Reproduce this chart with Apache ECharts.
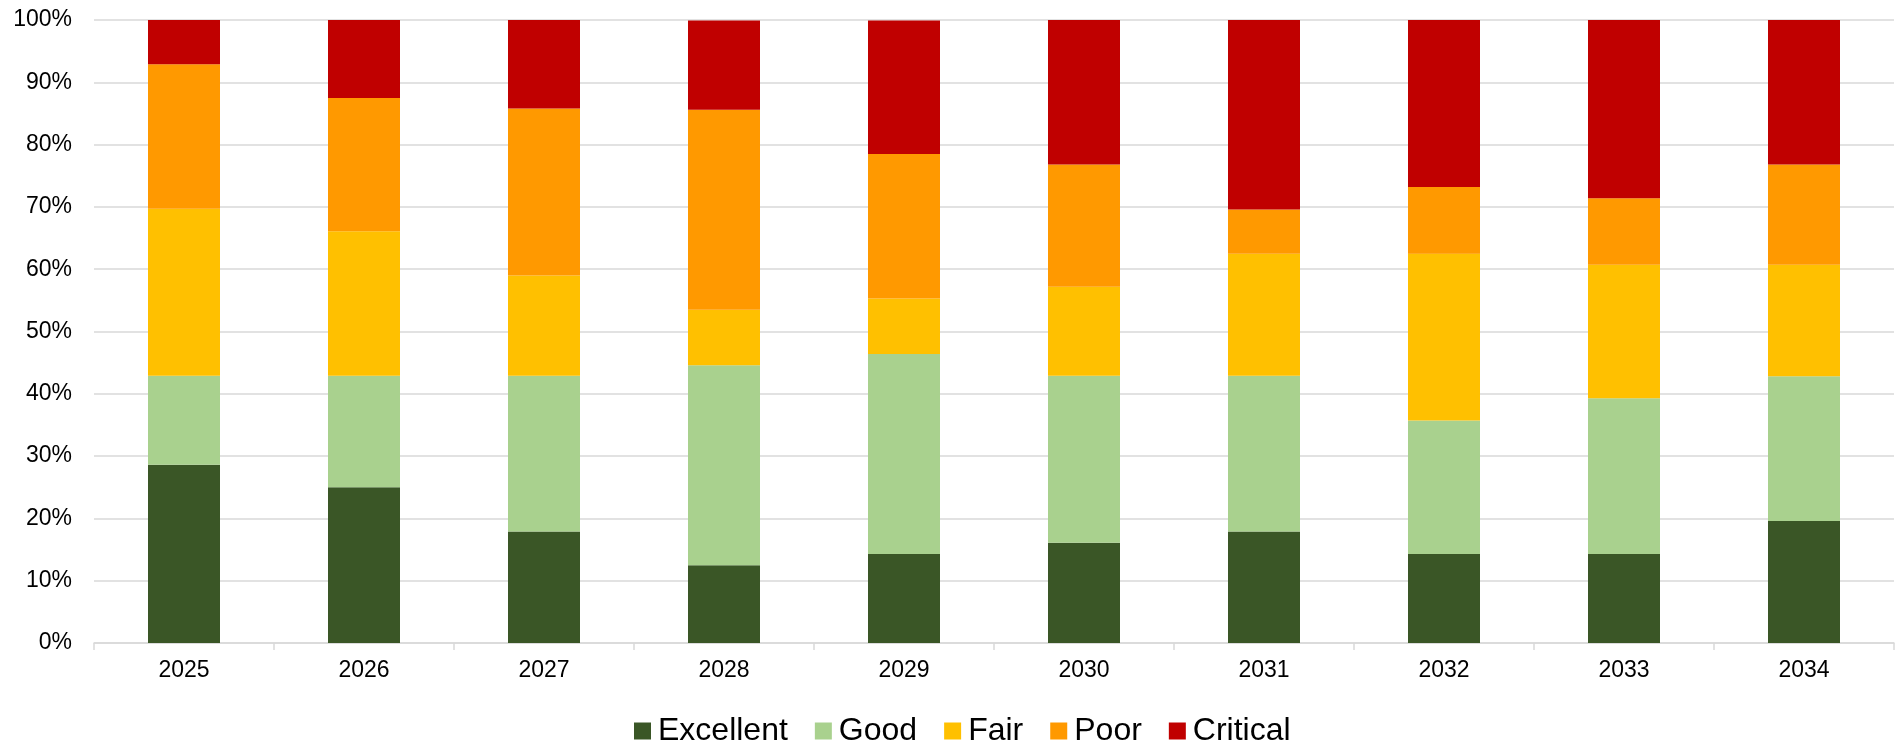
<!DOCTYPE html>
<html>
<head>
<meta charset="utf-8">
<title>Condition Forecast 2025–2034</title>
<script src="https://cdn.jsdelivr.net/npm/echarts@6/dist/echarts.min.js"></script>
<style>
  html, body { margin: 0; padding: 0; background: #ffffff; }
  #chart { width: 1898px; height: 743px; }
</style>
</head>
<body>
<div id="chart"></div>
<script>
// Years on the category axis
const years = ['2025', '2026', '2027', '2028', '2029', '2030', '2031', '2032', '2033', '2034'];

// Share of assets in each condition band (% of total per year)
const excellent = [28.6, 25.0, 17.9, 12.5, 14.3, 16.1, 17.9, 14.3, 14.3, 19.6];
const good      = [14.3, 17.9, 25.0, 32.1, 32.1, 26.8, 25.0, 21.4, 25.0, 23.2];
const fair      = [26.8, 23.2, 16.1,  8.9,  8.9, 14.3, 19.6, 26.8, 21.4, 17.9];
const poor      = [23.2, 21.4, 26.8, 32.1, 23.2, 19.6,  7.1, 10.7, 10.7, 16.1];
const critical  = [ 7.1, 12.5, 14.3, 14.3, 21.4, 23.2, 30.4, 26.8, 28.6, 23.2];

const seriesNames = ['Excellent', 'Good', 'Fair', 'Poor', 'Critical'];
const seriesData = [excellent, good, fair, poor, critical];
const seriesColors = ['#3A5626', '#A9D18E', '#FFC000', '#FF9900', '#C00000'];

const FONT = '"Liberation Sans", Arial, sans-serif';

const chart = echarts.init(document.getElementById('chart'), null, { renderer: 'canvas' });

chart.setOption({
  animation: false,
  backgroundColor: '#ffffff',
  textStyle: { fontFamily: FONT },
  grid: { left: 94, right: 4, top: 20, bottom: 100, containLabel: false },
  legend: {
    data: seriesNames,
    left: 629,
    top: 710,
    itemWidth: 17,
    itemHeight: 17,
    itemGap: 27,
    icon: 'rect',
    textStyle: { fontFamily: FONT, fontSize: 32, color: '#000000', lineHeight: 32, padding: [0, 0, 0, 2] }
  },
  xAxis: {
    type: 'category',
    data: years,
    axisLine: { show: true, lineStyle: { color: '#d9d9d9', width: 1.5 } },
    axisTick: { show: true, length: 7, lineStyle: { color: '#d9d9d9', width: 1.5 } },
    axisLabel: { fontFamily: FONT, fontSize: 23, color: '#000000', margin: 16 },
    splitLine: { show: false }
  },
  yAxis: {
    type: 'value',
    min: 0,
    max: 100,
    interval: 10,
    axisLine: { show: false },
    axisTick: { show: false },
    axisLabel: { fontFamily: FONT, fontSize: 23, color: '#000000', margin: 22, formatter: '{value}%' },
    splitLine: { show: true, lineStyle: { color: '#d9d9d9', width: 1.5 } }
  },
  series: seriesNames.map((name, i) => ({
    name: name,
    type: 'bar',
    stack: 'condition',
    barWidth: 72,
    data: seriesData[i],
    itemStyle: { color: seriesColors[i] },
    emphasis: { disabled: true }
  }))
});
</script>
</body>
</html>
